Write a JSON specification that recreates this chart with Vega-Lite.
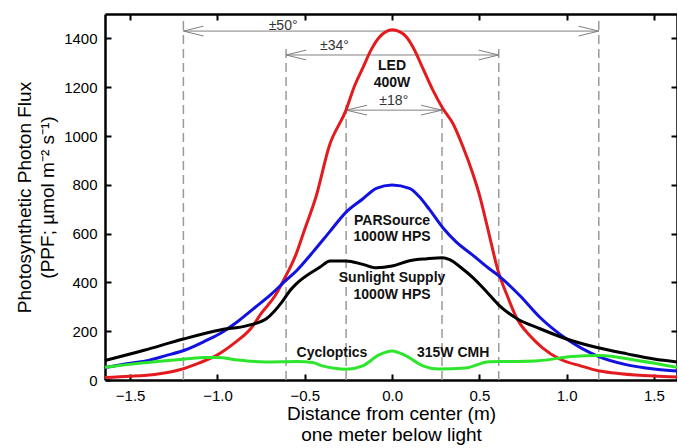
{
  "$schema": "https://vega.github.io/schema/vega-lite/v6.json",
  "width": 572,
  "height": 366,
  "autosize": {"type": "none"},
  "padding": {"left": 105, "top": 14, "right": 0, "bottom": 68},
  "background": "white",
  "config": {
    "view": {"stroke": null},
    "font": "Liberation Sans",
    "axis": {
      "labelFont": "Liberation Sans",
      "titleFont": "Liberation Sans",
      "labelFontSize": 15,
      "titleFontSize": 19,
      "titleFontWeight": "normal",
      "labelColor": "black",
      "titleColor": "black",
      "domainColor": "black",
      "domainWidth": 2.5,
      "tickColor": "black",
      "tickWidth": 2,
      "tickSize": -6,
      "grid": false
    }
  },
  "datasets": {
    "curves": [
      {"series": "LED", "x": -1.644, "ppf": 10},
      {"series": "LED", "x": -1.5, "ppf": 15},
      {"series": "LED", "x": -1.35, "ppf": 24},
      {"series": "LED", "x": -1.27, "ppf": 33},
      {"series": "LED", "x": -1.2, "ppf": 45},
      {"series": "LED", "x": -1.1, "ppf": 71},
      {"series": "LED", "x": -1.0, "ppf": 103},
      {"series": "LED", "x": -0.9, "ppf": 153},
      {"series": "LED", "x": -0.81, "ppf": 210},
      {"series": "LED", "x": -0.745, "ppf": 277},
      {"series": "LED", "x": -0.67, "ppf": 345},
      {"series": "LED", "x": -0.613, "ppf": 420},
      {"series": "LED", "x": -0.55, "ppf": 515},
      {"series": "LED", "x": -0.5, "ppf": 618},
      {"series": "LED", "x": -0.435, "ppf": 752},
      {"series": "LED", "x": -0.36, "ppf": 958},
      {"series": "LED", "x": -0.263, "ppf": 1107},
      {"series": "LED", "x": -0.216, "ppf": 1203},
      {"series": "LED", "x": -0.168, "ppf": 1278},
      {"series": "LED", "x": -0.12, "ppf": 1353},
      {"series": "LED", "x": -0.073, "ppf": 1405},
      {"series": "LED", "x": -0.034, "ppf": 1428},
      {"series": "LED", "x": 0.0, "ppf": 1435},
      {"series": "LED", "x": 0.042, "ppf": 1428},
      {"series": "LED", "x": 0.08, "ppf": 1408},
      {"series": "LED", "x": 0.118, "ppf": 1367},
      {"series": "LED", "x": 0.176, "ppf": 1278},
      {"series": "LED", "x": 0.233, "ppf": 1189},
      {"series": "LED", "x": 0.29, "ppf": 1114},
      {"series": "LED", "x": 0.348, "ppf": 1052},
      {"series": "LED", "x": 0.405, "ppf": 958},
      {"series": "LED", "x": 0.462, "ppf": 847},
      {"series": "LED", "x": 0.5, "ppf": 760},
      {"series": "LED", "x": 0.544, "ppf": 633},
      {"series": "LED", "x": 0.61, "ppf": 441},
      {"series": "LED", "x": 0.66, "ppf": 345},
      {"series": "LED", "x": 0.716, "ppf": 251},
      {"series": "LED", "x": 0.79, "ppf": 181},
      {"series": "LED", "x": 0.86, "ppf": 133},
      {"series": "LED", "x": 0.96, "ppf": 86},
      {"series": "LED", "x": 1.08, "ppf": 58},
      {"series": "LED", "x": 1.19, "ppf": 37},
      {"series": "LED", "x": 1.31, "ppf": 26},
      {"series": "LED", "x": 1.5, "ppf": 16},
      {"series": "LED", "x": 1.632, "ppf": 12},

      {"series": "PARSource", "x": -1.644, "ppf": 51},
      {"series": "PARSource", "x": -1.53, "ppf": 66},
      {"series": "PARSource", "x": -1.41, "ppf": 78},
      {"series": "PARSource", "x": -1.3, "ppf": 99},
      {"series": "PARSource", "x": -1.185, "ppf": 123},
      {"series": "PARSource", "x": -1.07, "ppf": 160},
      {"series": "PARSource", "x": -0.975, "ppf": 195},
      {"series": "PARSource", "x": -0.88, "ppf": 242},
      {"series": "PARSource", "x": -0.785, "ppf": 297},
      {"series": "PARSource", "x": -0.69, "ppf": 353},
      {"series": "PARSource", "x": -0.613, "ppf": 405},
      {"series": "PARSource", "x": -0.544, "ppf": 450},
      {"series": "PARSource", "x": -0.455, "ppf": 523},
      {"series": "PARSource", "x": -0.36, "ppf": 605},
      {"series": "PARSource", "x": -0.263, "ppf": 688},
      {"series": "PARSource", "x": -0.168, "ppf": 742},
      {"series": "PARSource", "x": -0.09, "ppf": 785},
      {"series": "PARSource", "x": 0.0, "ppf": 799},
      {"series": "PARSource", "x": 0.1, "ppf": 785},
      {"series": "PARSource", "x": 0.155, "ppf": 752},
      {"series": "PARSource", "x": 0.213, "ppf": 700},
      {"series": "PARSource", "x": 0.29, "ppf": 625},
      {"series": "PARSource", "x": 0.367, "ppf": 566},
      {"series": "PARSource", "x": 0.462, "ppf": 512},
      {"series": "PARSource", "x": 0.55, "ppf": 460},
      {"series": "PARSource", "x": 0.61, "ppf": 428},
      {"series": "PARSource", "x": 0.733, "ppf": 345},
      {"series": "PARSource", "x": 0.848, "ppf": 256},
      {"series": "PARSource", "x": 1.0, "ppf": 168},
      {"series": "PARSource", "x": 1.174, "ppf": 99},
      {"series": "PARSource", "x": 1.346, "ppf": 62},
      {"series": "PARSource", "x": 1.5, "ppf": 45},
      {"series": "PARSource", "x": 1.632, "ppf": 37},

      {"series": "Sunlight", "x": -1.644, "ppf": 80},
      {"series": "Sunlight", "x": -1.42, "ppf": 122},
      {"series": "Sunlight", "x": -1.195, "ppf": 168},
      {"series": "Sunlight", "x": -0.985, "ppf": 205},
      {"series": "Sunlight", "x": -0.83, "ppf": 223},
      {"series": "Sunlight", "x": -0.72, "ppf": 251},
      {"series": "Sunlight", "x": -0.63, "ppf": 320},
      {"series": "Sunlight", "x": -0.584, "ppf": 367},
      {"series": "Sunlight", "x": -0.55, "ppf": 393},
      {"series": "Sunlight", "x": -0.412, "ppf": 463},
      {"series": "Sunlight", "x": -0.355, "ppf": 488},
      {"series": "Sunlight", "x": -0.263, "ppf": 488},
      {"series": "Sunlight", "x": -0.168, "ppf": 474},
      {"series": "Sunlight", "x": -0.09, "ppf": 460},
      {"series": "Sunlight", "x": 0.0, "ppf": 467},
      {"series": "Sunlight", "x": 0.1, "ppf": 489},
      {"series": "Sunlight", "x": 0.2, "ppf": 497},
      {"series": "Sunlight", "x": 0.29, "ppf": 501},
      {"series": "Sunlight", "x": 0.33, "ppf": 493},
      {"series": "Sunlight", "x": 0.403, "ppf": 456},
      {"series": "Sunlight", "x": 0.46, "ppf": 422},
      {"series": "Sunlight", "x": 0.535, "ppf": 367},
      {"series": "Sunlight", "x": 0.61, "ppf": 308},
      {"series": "Sunlight", "x": 0.716, "ppf": 251},
      {"series": "Sunlight", "x": 0.848, "ppf": 210},
      {"series": "Sunlight", "x": 1.0, "ppf": 168},
      {"series": "Sunlight", "x": 1.174, "ppf": 133},
      {"series": "Sunlight", "x": 1.346, "ppf": 107},
      {"series": "Sunlight", "x": 1.5, "ppf": 86},
      {"series": "Sunlight", "x": 1.632, "ppf": 74},

      {"series": "Cycloptics", "x": -1.644, "ppf": 52},
      {"series": "Cycloptics", "x": -1.53, "ppf": 62},
      {"series": "Cycloptics", "x": -1.41, "ppf": 71},
      {"series": "Cycloptics", "x": -1.185, "ppf": 86},
      {"series": "Cycloptics", "x": -1.07, "ppf": 92},
      {"series": "Cycloptics", "x": -1.0, "ppf": 92},
      {"series": "Cycloptics", "x": -0.88, "ppf": 82},
      {"series": "Cycloptics", "x": -0.73, "ppf": 74},
      {"series": "Cycloptics", "x": -0.544, "ppf": 76},
      {"series": "Cycloptics", "x": -0.455, "ppf": 72},
      {"series": "Cycloptics", "x": -0.4, "ppf": 58},
      {"series": "Cycloptics", "x": -0.33, "ppf": 48},
      {"series": "Cycloptics", "x": -0.263, "ppf": 44},
      {"series": "Cycloptics", "x": -0.168, "ppf": 58},
      {"series": "Cycloptics", "x": -0.074, "ppf": 103},
      {"series": "Cycloptics", "x": 0.0, "ppf": 119},
      {"series": "Cycloptics", "x": 0.08, "ppf": 99},
      {"series": "Cycloptics", "x": 0.176, "ppf": 58},
      {"series": "Cycloptics", "x": 0.27, "ppf": 45},
      {"series": "Cycloptics", "x": 0.42, "ppf": 49},
      {"series": "Cycloptics", "x": 0.556, "ppf": 75},
      {"series": "Cycloptics", "x": 0.7, "ppf": 76},
      {"series": "Cycloptics", "x": 0.84, "ppf": 79},
      {"series": "Cycloptics", "x": 1.03, "ppf": 96},
      {"series": "Cycloptics", "x": 1.185, "ppf": 100},
      {"series": "Cycloptics", "x": 1.415, "ppf": 79},
      {"series": "Cycloptics", "x": 1.632, "ppf": 52}
    ],
    "dashes": [
      {"x": -1.195, "y0": 0, "y1": 1471},
      {"x": 1.184, "y0": 0, "y1": 1471},
      {"x": -0.607, "y0": 0, "y1": 1373},
      {"x": 0.611, "y0": 0, "y1": 1368},
      {"x": -0.263, "y0": 0, "y1": 1142},
      {"x": 0.286, "y0": 0, "y1": 1142}
    ],
    "arrows": [
      {"x": -1.195, "y": 1430, "x2": 1.184, "y2": 1430},
      {"x": -1.195, "y": 1430, "x2": -1.08, "y2": 1450},
      {"x": -1.195, "y": 1430, "x2": -1.08, "y2": 1410},
      {"x": 1.184, "y": 1430, "x2": 1.069, "y2": 1450},
      {"x": 1.184, "y": 1430, "x2": 1.069, "y2": 1410},
      {"x": -0.607, "y": 1332, "x2": 0.611, "y2": 1332},
      {"x": -0.607, "y": 1332, "x2": -0.492, "y2": 1352},
      {"x": -0.607, "y": 1332, "x2": -0.492, "y2": 1312},
      {"x": 0.611, "y": 1332, "x2": 0.496, "y2": 1352},
      {"x": 0.611, "y": 1332, "x2": 0.496, "y2": 1312},
      {"x": -0.263, "y": 1106, "x2": 0.286, "y2": 1106},
      {"x": -0.263, "y": 1106, "x2": -0.143, "y2": 1126},
      {"x": -0.263, "y": 1106, "x2": -0.143, "y2": 1086},
      {"x": 0.286, "y": 1106, "x2": 0.166, "y2": 1126},
      {"x": 0.286, "y": 1106, "x2": 0.166, "y2": 1086}
    ],
    "angles": [
      {"x": -0.624, "y": 1452, "label": "±50°"},
      {"x": -0.33, "y": 1369, "label": "±34°"},
      {"x": 0.01, "y": 1142, "label": "±18°"}
    ],
    "names": [
      {"x": 0.0, "y": 1285, "label": "LED"},
      {"x": 0.0, "y": 1217, "label": "400W"},
      {"x": 0.0, "y": 651, "label": "PARSource"},
      {"x": 0.0, "y": 585, "label": "1000W HPS"},
      {"x": 0.0, "y": 420, "label": "Sunlight Supply"},
      {"x": 0.0, "y": 349, "label": "1000W HPS"},
      {"x": -0.344, "y": 112, "label": "Cycloptics"},
      {"x": 0.35, "y": 112, "label": "315W CMH"}
    ]
  },
  "resolve": {"axis": {"x": "independent", "y": "independent"}},
  "layer": [
    {
      "data": {"name": "dashes"},
      "mark": {"type": "rule", "color": "#9a9a9a", "strokeWidth": 1.5, "strokeDash": [9, 5]},
      "encoding": {
        "x": {"field": "x", "type": "quantitative",
              "scale": {"domain": [-1.644, 1.632], "nice": false, "zero": false},
              "axis": {"orient": "top", "labels": false, "title": null, "values": [-1.5, -1.0, -0.5, 0, 0.5, 1.0, 1.5]}},
        "y": {"field": "y0", "type": "quantitative",
              "scale": {"domain": [0, 1500], "nice": false},
              "axis": {"orient": "right", "labels": false, "title": null, "values": [200, 400, 600, 800, 1000, 1200, 1400]}},
        "y2": {"field": "y1"}
      }
    },
    {
      "data": {"name": "arrows"},
      "mark": {"type": "rule", "color": "#808080", "strokeWidth": 1},
      "encoding": {
        "x": {"field": "x", "type": "quantitative", "scale": {"domain": [-1.644, 1.632], "nice": false, "zero": false}, "axis": null},
        "y": {"field": "y", "type": "quantitative", "scale": {"domain": [0, 1500], "nice": false}, "axis": null},
        "x2": {"field": "x2"},
        "y2": {"field": "y2"}
      }
    },
    {
      "data": {"name": "curves"},
      "mark": {"type": "line", "strokeWidth": 3, "interpolate": "monotone"},
      "encoding": {
        "x": {"field": "x", "type": "quantitative",
              "scale": {"domain": [-1.644, 1.632], "nice": false, "zero": false},
              "axis": {"orient": "bottom", "values": [-1.5, -1.0, -0.5, 0, 0.5, 1.0, 1.5], "format": ".1f", "labelPadding": 14,
                       "title": ["Distance from center (m)", "one meter below light"], "titlePadding": 1, "titleLineHeight": 21}},
        "y": {"field": "ppf", "type": "quantitative",
              "scale": {"domain": [0, 1500], "nice": false},
              "axis": {"orient": "left", "values": [0, 200, 400, 600, 800, 1000, 1200, 1400], "format": "d", "labelPadding": 14,
                       "title": ["Photosynthetic Photon Flux", "(PPF; µmol m⁻² s⁻¹)"], "titlePadding": 6, "titleLineHeight": 23}},
        "color": {"field": "series", "type": "nominal",
                  "scale": {"domain": ["LED", "PARSource", "Sunlight", "Cycloptics"], "range": ["#e31b1f", "#1212e0", "#000000", "#2ee52e"]},
                  "legend": null}
      }
    },
    {
      "data": {"name": "angles"},
      "mark": {"type": "text", "font": "Liberation Sans", "fontSize": 14, "color": "#333333", "baseline": "middle", "align": "center"},
      "encoding": {
        "x": {"field": "x", "type": "quantitative", "scale": {"domain": [-1.644, 1.632], "nice": false, "zero": false}, "axis": null},
        "y": {"field": "y", "type": "quantitative", "scale": {"domain": [0, 1500], "nice": false}, "axis": null},
        "text": {"field": "label"}
      }
    },
    {
      "data": {"name": "names"},
      "mark": {"type": "text", "font": "Liberation Sans", "fontSize": 14, "fontWeight": "bold", "color": "#111111", "baseline": "middle", "align": "center"},
      "encoding": {
        "x": {"field": "x", "type": "quantitative", "scale": {"domain": [-1.644, 1.632], "nice": false, "zero": false}, "axis": null},
        "y": {"field": "y", "type": "quantitative", "scale": {"domain": [0, 1500], "nice": false}, "axis": null},
        "text": {"field": "label"}
      }
    }
  ]
}
